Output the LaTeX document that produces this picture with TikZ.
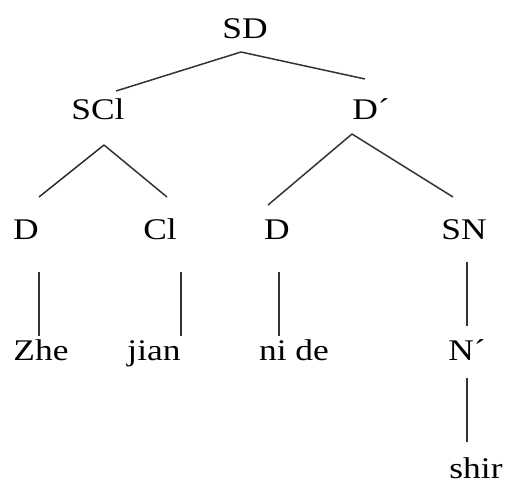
\documentclass[tikz,border=0pt]{standalone}
\usepackage{fontspec}
\setmainfont{Liberation Serif}
\usetikzlibrary{positioning}

\begin{document}
\begin{tikzpicture}[x=1pt,y=-1pt,
    cat/.style={anchor=base,inner sep=0pt,xscale=1.18,font=\fontsize{30}{36}\selectfont},
    branch/.style={line width=1.5pt,black!80}]
					\useasboundingbox (0,0) rectangle (507,482);
					% labels
					\node[cat] (sd) at (245,38) {SD};
					\node[cat] (scl) at (98,119) {SCl};
					\node[cat] (dbar) at (371,119) {D´};
					\node[cat] (d_1) at (26,239) {D};
					\node[cat] (cl) at (160,239) {Cl};
					\node[cat] (d_2) at (277,239) {D};
					\node[cat] (sn) at (464,239) {SN};
					\node[cat] (zhe) at (41,360) {Zhe};
					\node[cat] (jian) at (154,360) {jian};
					\node[cat] (nide) at (294,360) {ni de};
					\node[cat] (nbar) at (467,360) {N´};
					\node[cat] (shir) at (476,478) {shir};
					% line ends
					\coordinate (sd_b) at (241,52);
					\coordinate (scl_t) at (116,91);
					\coordinate (dbar_t) at (365,79);
					\coordinate (scl_b) at (104,145);
					\coordinate (d_1_t) at (39,197);
					\coordinate (cl_t) at (167,197);
					\coordinate (dbar_b) at (352,134);
					\coordinate (d_2_t) at (268,205);
					\coordinate (sn_t) at (453,197);
					\coordinate (d_1_b) at (39,272);
					\coordinate (zhe_t) at (39,336);
					\coordinate (cl_b) at (181,272);
					\coordinate (jian_t) at (181,336);
					\coordinate (d_2_b) at (279,272);
					\coordinate (nide_t) at (279,336);
					\coordinate (sn_b) at (467,262);
					\coordinate (nbar_t) at (467,326);
					\coordinate (nbar_b) at (467,378);
					\coordinate (shir_t) at (467,442);
					\path[branch]
					(sd_b) edge (scl_t)
					(sd_b) edge (dbar_t)
					(scl_b) edge (d_1_t)
					(scl_b) edge (cl_t)
					(dbar_b) edge (d_2_t)
					(dbar_b) edge (sn_t)
					(d_1_b) edge (zhe_t)
					(cl_b) edge (jian_t)
					(d_2_b) edge (nide_t)
					(sn_b) edge (nbar_t)
					(nbar_b) edge (shir_t);
				\end{tikzpicture}
\end{document}
